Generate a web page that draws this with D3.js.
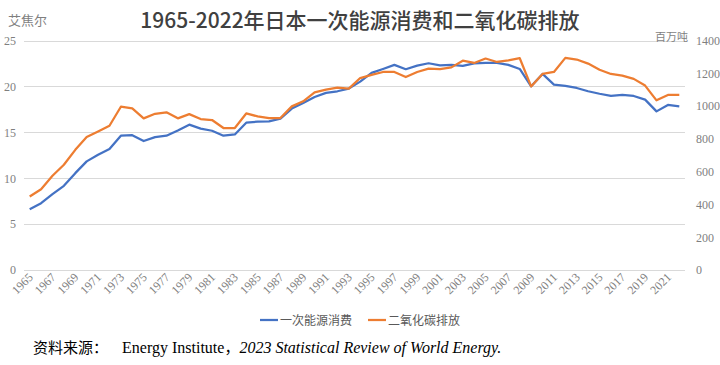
<!DOCTYPE html>
<html><head><meta charset="utf-8">
<script src="https://cdn.jsdelivr.net/npm/d3@7"></script>
<style>body{margin:0;background:#fff}svg{display:block}</style>
</head><body><div id="c"></div>
<script>
const years = d3.range(1965, 2023);
const energy = [6.63,7.28,8.26,9.17,10.55,11.83,12.55,13.17,14.63,14.68,14.05,14.48,14.63,15.2,15.83,15.4,15.17,14.63,14.77,16.05,16.16,16.2,16.48,17.58,18.2,18.85,19.29,19.47,19.76,20.52,21.47,21.9,22.34,21.87,22.27,22.52,22.3,22.34,22.23,22.5,22.56,22.56,22.34,21.9,20.01,21.36,20.2,20.05,19.83,19.47,19.2,18.96,19.07,18.96,18.56,17.28,17.98,17.83];
const co2 = [448,493,575,642,733,811,845,880,996,986,925,953,962,925,951,921,915,866,866,955,937,927,927,998,1029,1084,1100,1112,1106,1171,1190,1208,1208,1177,1208,1228,1226,1236,1277,1263,1290,1269,1279,1292,1120,1196,1208,1294,1284,1259,1222,1196,1186,1166,1125,1035,1068,1068];
const leftTicks = [0,5,10,15,20,25];
const rightTicks = [0,200,400,600,800,1000,1200,1400];
const xTickYears = years.filter(y => (y - 1965) % 2 === 0);
const seriesNames = ["一次能源消费","二氧化碳排放"];
const title = "1965-2022年日本一次能源消费和二氧化碳排放";
const leftUnit = "艾焦尔", rightUnit = "百万吨";

const W = 720, H = 365;
const svg = d3.select("#c").append("svg").attr("width", W).attr("height", H);
const x0 = 24, x1 = 685, yTop = 40.5, yBot = 270;
const x = d3.scaleBand().domain(years).range([x0, x1]);
const yL = d3.scaleLinear().domain([0,25]).range([yBot, yTop]);
const yR = d3.scaleLinear().domain([0,1400]).range([yBot, yTop]);
const cx = d => x(d) + x.bandwidth()/2;
const numFont = "'Liberation Serif', serif";
const cjk = "'Noto Sans CJK SC', sans-serif";

// gridlines
svg.append("g").selectAll("line").data(leftTicks).join("line")
  .attr("x1", x0).attr("x2", x1).attr("y1", d => Math.round(yL(d))+0.5).attr("y2", d => Math.round(yL(d))+0.5)
  .attr("stroke", "#d9d9d9").attr("stroke-width", 1);

// left axis
const gl = svg.append("g").attr("transform", `translate(${x0},0)`)
  .call(d3.axisLeft(yL).tickValues(leftTicks).tickSize(0).tickPadding(8));
gl.select(".domain").remove();
gl.selectAll("text").attr("font-family", numFont).attr("font-size", 12).attr("fill", "#7f7f7f");

// right axis
const gr = svg.append("g").attr("transform", `translate(${x1},0)`)
  .call(d3.axisRight(yR).tickValues(rightTicks).tickFormat(d3.format("d")).tickSize(0).tickPadding(11));
gr.select(".domain").remove();
gr.selectAll("text").attr("font-family", numFont).attr("font-size", 12).attr("fill", "#7f7f7f");

// bottom axis labels
const gb = svg.append("g").attr("transform", `translate(0,${yBot})`)
  .call(d3.axisBottom(x).tickValues(xTickYears).tickSize(0).tickPadding(0));
gb.select(".domain").remove();
gb.selectAll("text").attr("font-family", numFont).attr("font-size", 12).attr("fill", "#7f7f7f")
  .attr("text-anchor", "end").attr("dy", 0)
  .attr("transform", "translate(4,8) rotate(-45)");

// lines
const colors = ["#4472c4", "#ed7d31"];
svg.append("path").datum(years.map((y,i)=>[cx(y), yL(energy[i])]))
  .attr("fill","none").attr("stroke",colors[0]).attr("stroke-width",2.25).attr("stroke-linejoin","round")
  .attr("d", d3.line());
svg.append("path").datum(years.map((y,i)=>[cx(y), yR(co2[i])]))
  .attr("fill","none").attr("stroke",colors[1]).attr("stroke-width",2.25).attr("stroke-linejoin","round")
  .attr("d", d3.line());

// title
svg.append("text").attr("x", 360).attr("y", 28).attr("text-anchor","middle")
  .attr("font-family", cjk).attr("font-weight", 500).attr("font-size", 21).attr("fill", "#404040").text(title);
svg.append("text").attr("x", 8).attr("y", 25).attr("font-family", cjk).attr("font-size", 13).attr("fill", "#7f7f7f").text(leftUnit);
svg.append("text").attr("x", 655).attr("y", 41).attr("font-family", cjk).attr("font-size", 11).attr("fill", "#7f7f7f").text(rightUnit);

// legend
const lg = svg.append("g");
const legX = [260, 368];
seriesNames.forEach((n,i)=>{
  lg.append("line").attr("x1", legX[i]).attr("x2", legX[i]+18).attr("y1", 320).attr("y2", 320)
    .attr("stroke", colors[i]).attr("stroke-width", 2.25);
  lg.append("text").attr("x", legX[i]+20).attr("y", 324.5).attr("font-family", cjk).attr("font-size", 12)
    .attr("fill", "#595959").text(n);
});

// source
const src = svg.append("text").attr("x", 33).attr("y", 353).attr("font-size", 16).attr("fill", "#000");
src.append("tspan").attr("font-family", cjk).attr("font-size", 15).text("资料来源：");
src.append("tspan").attr("font-family", "'Liberation Serif', serif").attr("dx", 14).text("Energy Institute");
src.append("tspan").attr("font-family", cjk).attr("font-size", 15).text("，");
src.append("tspan").attr("font-family", "'Liberation Serif', serif").attr("font-style", "italic").text("2023 Statistical Review of World Energy.");
</script></body></html>
